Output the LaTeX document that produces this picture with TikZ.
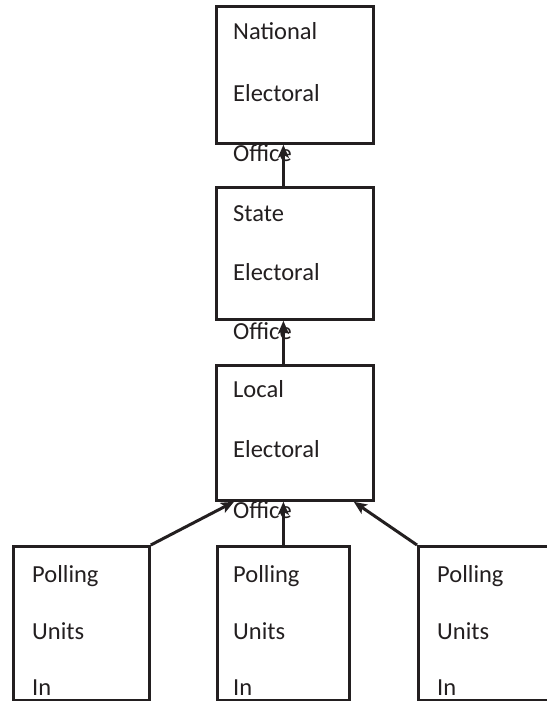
\documentclass[tikz,border=0pt]{standalone}
\usepackage{fontspec}
\setmainfont{Carlito}
\usetikzlibrary{arrows.meta}
\definecolor{ink}{HTML}{231F20}
\tikzset{
  box/.style={draw=ink, line width=2.8pt, anchor=north west, inner sep=0pt},
  lbl/.style={anchor=base west, inner sep=0pt, text=ink, font=\fontsize{24.5}{28}\selectfont},
  arr/.style={draw=ink, line width=3pt, -{Stealth[length=13pt,width=11pt,inset=3pt]}},
}
\begin{document}
\begin{tikzpicture}[x=1pt,y=-1pt]
  \useasboundingbox (0,0) rectangle (546,701);

  % hierarchy boxes
  \node[box, minimum width=157pt, minimum height=137pt] (nat)   at (215,5)   {};
  \node[box, minimum width=157pt, minimum height=132pt] (state) at (215,186) {};
  \node[box, minimum width=157pt, minimum height=135pt] (local) at (215,364) {};
  \node[box, minimum width=136pt, minimum height=154pt] (pA)    at (12,545)  {};
  \node[box, minimum width=132pt, minimum height=154pt] (pB)    at (216,545) {};
  \node[box, minimum width=150pt, minimum height=154pt] (pC)    at (417,545) {};

  % box texts
  \node[lbl] (nat1) at (233,40)  {National};
  \node[lbl] (nat2) at (233,101) {Electoral};
  \node[lbl] (nat3) at (233,161) {Office};

  \node[lbl] (st1) at (233,221) {State};
  \node[lbl] (st2) at (233,280) {Electoral};
  \node[lbl] (st3) at (233,339) {Office};

  \node[lbl] (lo1) at (233,397) {Local};
  \node[lbl] (lo2) at (233,457) {Electoral};
  \node[lbl] (lo3) at (233,518) {Office};

  \node[lbl] (pa1) at (32,582) {Polling};
  \node[lbl] (pa2) at (32,639) {Units};
  \node[lbl] (pa3) at (32,695) {In};

  \node[lbl] (pb1) at (233,582) {Polling};
  \node[lbl] (pb2) at (233,639) {Units};
  \node[lbl] (pb3) at (233,695) {In};

  \node[lbl] (pc1) at (437,582) {Polling};
  \node[lbl] (pc2) at (437,639) {Units};
  \node[lbl] (pc3) at (437,695) {In};

  % reporting lines
  \draw[arr] ([xshift=-11.5pt]state.north) -- ([xshift=-11.5pt]nat.south);
  \draw[arr] ([xshift=-11.5pt]local.north) -- ([xshift=-11.5pt]state.south);
  \draw[arr] (pA.north east) -- ([xshift=19pt]local.south west);
  \draw[arr] (pB.north) -- (pB.north |- local.south);
  \draw[arr] (pC.north west) -- ([xshift=-21pt]local.south east);
\end{tikzpicture}
\end{document}
